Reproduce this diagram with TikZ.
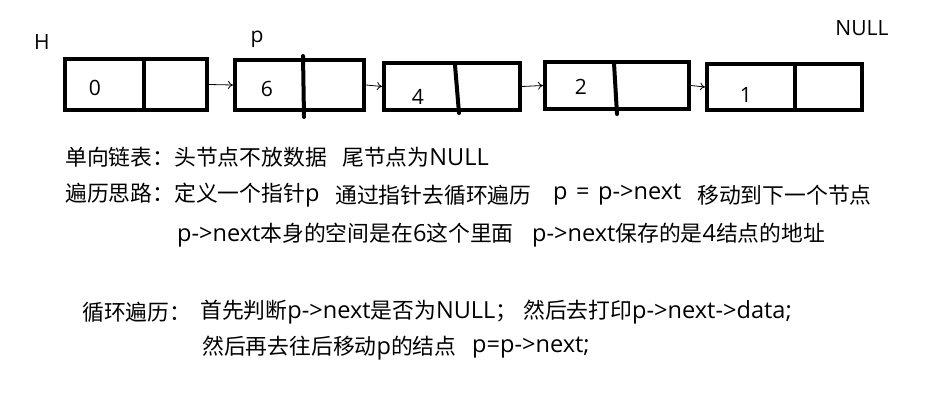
\documentclass[tikz,border=0pt]{standalone}
\usepackage{fontspec}
\setmainfont[Scale=1.08]{Open Sans}
\newfontfamily\cjk{Noto Sans CJK SC}
\usetikzlibrary{arrows.meta}
\begin{document}
\begin{tikzpicture}[x=1pt,y=-1pt,
  cell/.style={draw,line width=4pt,inner sep=0pt,minimum width=#1},
  divider/.style={line width=4pt},
  pdivider/.style={line width=4pt,line cap=round},
  link/.style={line width=0.8pt,-{To[length=5pt,width=8pt]}},
  lbl/.style={inner sep=0pt,font=\fontsize{19.5}{24}\selectfont},
  txt/.style={inner sep=0pt,anchor=west,font=\fontsize{21.8}{25}\selectfont}]
\useasboundingbox (0,0) rectangle (939,402);
% nodes of the list
\node[cell=142pt,minimum height=51pt] (b0) at (136,84.5) {};
\node[cell=129pt,minimum height=50pt] (b6) at (299.5,85) {};
\node[cell=136pt,minimum height=47pt] (b4) at (452,86.5) {};
\node[cell=144pt,minimum height=47pt] (b2) at (617,85.5) {};
\node[cell=155pt,minimum height=46pt] (b1) at (784.5,87) {};
% dividers
\draw[divider] (144,59) -- (144,110);
\draw[pdivider] (303,56) -- (304,117);
\draw[pdivider] (455,65) -- (459,113);
\draw[pdivider] (614,63) -- (617,114);
\draw[divider] (795,64) -- (795,110);
% values
\node[lbl] (v0) at (95,88) {0};
\node[lbl] (v6) at (267,89) {6};
\node[lbl] (v4) at (418,97) {4};
\node[lbl] (v2) at (581,87) {2};
\node[lbl] (v1) at (746,95) {1};
% labels
\node[lbl] (H) at (42,42) {H};
\node[lbl] (p) at (257,39) {p};
\node[lbl] (null) at (862,28) {NULL};
% links
\draw[link] (b0.east) -- (b6.west);
\draw[link] (b6.east) -- (b4.west);
\draw[link] (b4.east) -- (b2.west);
\draw[link] (b2.east) -- (b1.west);
% text
\node[txt] (t1a) at (65,157) {\cjk 单向链表：头节点不放数据};
\node[txt] (t1b) at (342,157) {{\cjk 尾节点为}NULL};
\node[txt] (t2a) at (65,195) {{\cjk 遍历思路：定义一个指针}p};
\node[txt] (t2b) at (335,195) {\cjk 通过指针去循环遍历};
\node[txt] (t2c) at (553,195) {p\hspace{8.5pt}=\hspace{8.5pt}p->next};
\node[txt] (t2d) at (697,195) {\cjk 移动到下一个节点};
\node[txt] (t3a) at (177,235) {p->next{\cjk 本身的空间是在}6{\cjk 这个里面}};
\node[txt] (t3b) at (532,235) {p->next{\cjk 保存的是}4{\cjk 结点的地址}};
\node[txt] (t4a) at (82,312) {\cjk 循环遍历：};
\node[txt] (t4b) at (200,312) {{\cjk 首先判断}p->next{\cjk 是否为}NULL{\cjk ；}};
\node[txt] (t4c) at (523,312) {{\cjk 然后去打印}p->next->data;};
\node[txt] (t5a) at (202,348) {{\cjk 然后再去往后移动}p{\cjk 的结点}};
\node[txt] (t5b) at (472,348) {p=p->next;};
\end{tikzpicture}
\end{document}
